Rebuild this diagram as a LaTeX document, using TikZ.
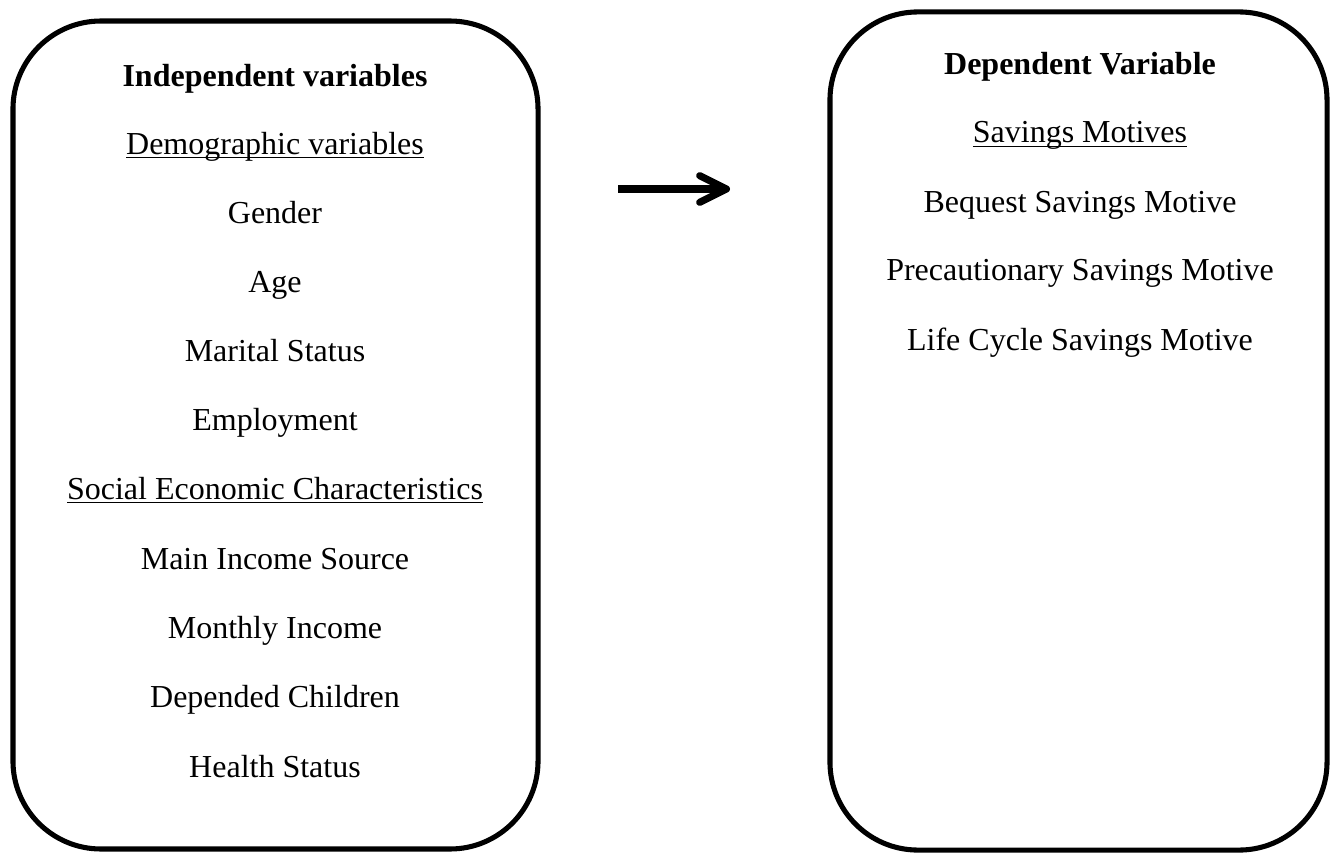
\documentclass[tikz,border=0pt]{standalone}
\usepackage{fontspec}
\setmainfont{Liberation Serif}
\usetikzlibrary{arrows.meta}
\newcommand{\headline}[1]{\underline{\smash{#1}}}
\begin{document}
\begin{tikzpicture}[x=0.375pt,y=-0.375pt,font=\fontsize{12pt}{14pt}\selectfont]
  \useasboundingbox (0,0) rectangle (1330,853);

  \begin{scope}[every node/.style={draw,line width=1.9pt,rounded corners=33pt,inner sep=0pt,outer sep=0pt}]
    \node[minimum width=196.9pt,minimum height=310.5pt] (indep) at (275.5,435) {};
    \node[minimum width=186.4pt,minimum height=314.3pt] (dep)   at (1078.5,431) {};
  \end{scope}

  \begin{scope}[every node/.style={anchor=base,inner sep=0pt}]
    \node (ivtitle)  at (275,86)  {\textbf{Independent variables}};
    \node (demo)     at (275,154) {\headline{Demographic variables}};
    \node (gender)   at (275,223) {Gender};
    \node (age)      at (275,292) {Age};
    \node (marital)  at (275,361) {Marital Status};
    \node (employ)   at (275,430) {Employment};
    \node (socio)    at (275,499) {\headline{Social Economic Characteristics}};
    \node (source)   at (275,569) {Main Income Source};
    \node (income)   at (275,638) {Monthly Income};
    \node (children) at (275,707) {Depended Children};
    \node (health)   at (275,777) {Health Status};

    \node (dvtitle)  at (1080,75)  {\textbf{Dependent Variable}};
    \node (motives)  at (1080,143) {\headline{Savings Motives}};
    \node (bequest)  at (1080,212) {Bequest Savings Motive};
    \node (precaut)  at (1080,280) {Precautionary Savings Motive};
    \node (cycle)    at (1080,350) {Life Cycle Savings Motive};
  \end{scope}

  \coordinate (from) at (618,189);
  \coordinate (to)   at (730,189);
  \draw[line width=2.7pt,-{Straight Barb[round,length=10pt,width=10pt]}] (from) -- (to);

\end{tikzpicture}
\end{document}
